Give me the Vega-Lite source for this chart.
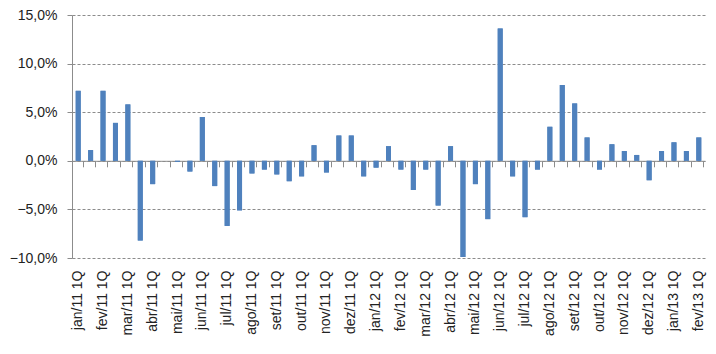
{
  "$schema": "https://vega.github.io/schema/vega-lite/v6.json",
  "width": 633,
  "height": 243,
  "autosize": {"type": "none"},
  "padding": {"left": 72, "top": 15, "right": 11, "bottom": 96},
  "config": {"view": {"stroke": null}, "font": "Liberation Sans"},
  "data": {"values": [
    {"periodo": "jan/11 1Q", "valor": 7.2},
    {"periodo": "jan/11 2Q", "valor": 1.1},
    {"periodo": "fev/11 1Q", "valor": 7.2},
    {"periodo": "fev/11 2Q", "valor": 3.9},
    {"periodo": "mar/11 1Q", "valor": 5.8},
    {"periodo": "mar/11 2Q", "valor": -8.2},
    {"periodo": "abr/11 1Q", "valor": -2.4},
    {"periodo": "abr/11 2Q", "valor": 0.0},
    {"periodo": "mai/11 1Q", "valor": -0.1},
    {"periodo": "mai/11 2Q", "valor": -1.1},
    {"periodo": "jun/11 1Q", "valor": 4.5},
    {"periodo": "jun/11 2Q", "valor": -2.6},
    {"periodo": "jul/11 1Q", "valor": -6.7},
    {"periodo": "jul/11 2Q", "valor": -5.1},
    {"periodo": "ago/11 1Q", "valor": -1.3},
    {"periodo": "ago/11 2Q", "valor": -0.9},
    {"periodo": "set/11 1Q", "valor": -1.4},
    {"periodo": "set/11 2Q", "valor": -2.1},
    {"periodo": "out/11 1Q", "valor": -1.6},
    {"periodo": "out/11 2Q", "valor": 1.6},
    {"periodo": "nov/11 1Q", "valor": -1.2},
    {"periodo": "nov/11 2Q", "valor": 2.6},
    {"periodo": "dez/11 1Q", "valor": 2.6},
    {"periodo": "dez/11 2Q", "valor": -1.6},
    {"periodo": "jan/12 1Q", "valor": -0.7},
    {"periodo": "jan/12 2Q", "valor": 1.5},
    {"periodo": "fev/12 1Q", "valor": -0.9},
    {"periodo": "fev/12 2Q", "valor": -3.0},
    {"periodo": "mar/12 1Q", "valor": -0.9},
    {"periodo": "mar/12 2Q", "valor": -4.6},
    {"periodo": "abr/12 1Q", "valor": 1.5},
    {"periodo": "abr/12 2Q", "valor": -9.9},
    {"periodo": "mai/12 1Q", "valor": -2.4},
    {"periodo": "mai/12 2Q", "valor": -6.0},
    {"periodo": "jun/12 1Q", "valor": 13.6},
    {"periodo": "jun/12 2Q", "valor": -1.6},
    {"periodo": "jul/12 1Q", "valor": -5.8},
    {"periodo": "jul/12 2Q", "valor": -0.9},
    {"periodo": "ago/12 1Q", "valor": 3.5},
    {"periodo": "ago/12 2Q", "valor": 7.8},
    {"periodo": "set/12 1Q", "valor": 5.9},
    {"periodo": "set/12 2Q", "valor": 2.4},
    {"periodo": "out/12 1Q", "valor": -0.9},
    {"periodo": "out/12 2Q", "valor": 1.7},
    {"periodo": "nov/12 1Q", "valor": 1.0},
    {"periodo": "nov/12 2Q", "valor": 0.6},
    {"periodo": "dez/12 1Q", "valor": -2.0},
    {"periodo": "dez/12 2Q", "valor": 1.0},
    {"periodo": "jan/13 1Q", "valor": 1.9},
    {"periodo": "jan/13 2Q", "valor": 1.0},
    {"periodo": "fev/13 1Q", "valor": 2.4}
  ]},
  "resolve": {"axis": {"x": "independent"}},
  "layer": [
    {
      "mark": {"type": "bar", "color": "#4F81BD"},
      "encoding": {
        "x": {
          "field": "periodo", "type": "nominal", "sort": null,
          "scale": {"paddingInner": 0.6, "paddingOuter": 0.3},
          "axis": {
            "orient": "bottom",
            "title": null,
            "values": ["jan/11 1Q","fev/11 1Q","mar/11 1Q","abr/11 1Q","mai/11 1Q","jun/11 1Q","jul/11 1Q","ago/11 1Q","set/11 1Q","out/11 1Q","nov/11 1Q","dez/11 1Q","jan/12 1Q","fev/12 1Q","mar/12 1Q","abr/12 1Q","mai/12 1Q","jun/12 1Q","jul/12 1Q","ago/12 1Q","set/12 1Q","out/12 1Q","nov/12 1Q","dez/12 1Q","jan/13 1Q","fev/13 1Q"],
            "domain": false,
            "ticks": false,
            "labelAngle": -90,
            "labelFontSize": 14,
            "labelPadding": 12,
            "labelColor": "#222222"
          }
        },
        "y": {
          "field": "valor", "type": "quantitative",
          "scale": {"domain": [-10, 15], "nice": false},
          "axis": {
            "title": null,
            "values": [-10, -5, 0, 5, 10, 15],
            "labelExpr": "replace(format(datum.value, '.1f'), '.', ',') + '%'",
            "grid": true,
            "gridDash": [3, 2],
            "gridColor": "#8c8c8c",
            "domainColor": "#8c8c8c",
            "tickColor": "#8c8c8c",
            "tickSize": 5,
            "labelPadding": 10,
            "labelFontSize": 14,
            "labelColor": "#222222"
          }
        }
      }
    },
    {
      "mark": {"type": "bar", "color": "#4F81BD"},
      "encoding": {
        "x": {
          "field": "periodo", "type": "nominal", "sort": null,
          "axis": {
            "orient": "bottom",
            "offset": -97.2,
            "title": null,
            "labels": false,
            "bandPosition": 1.5,
            "domainColor": "#8c8c8c",
            "tickColor": "#8c8c8c",
            "tickSize": 6
          }
        },
        "y": {"field": "valor", "type": "quantitative"}
      }
    }
  ]
}
